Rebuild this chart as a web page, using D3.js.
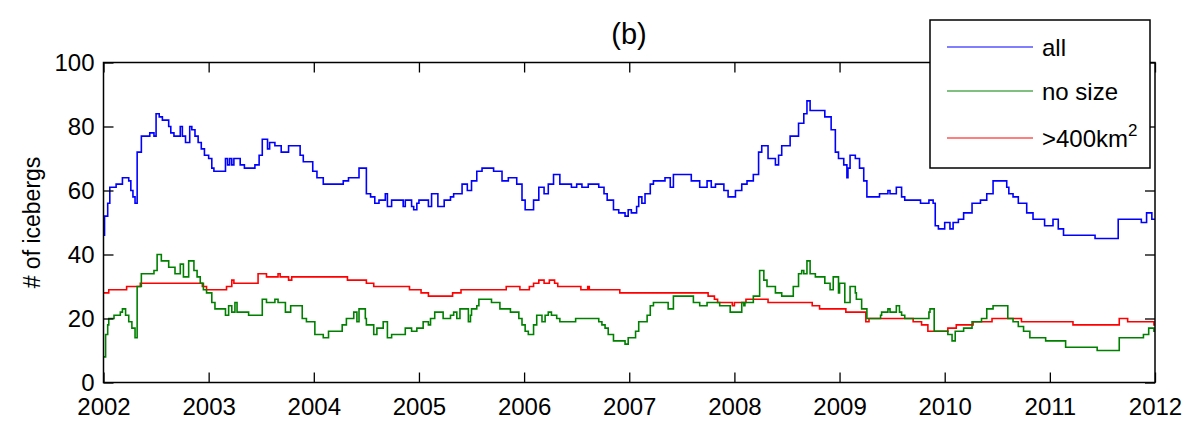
<!DOCTYPE html>
<html>
<head>
<meta charset="utf-8">
<script src="https://cdn.jsdelivr.net/npm/d3@7"></script>
<style>
  body { margin: 0; background: #fff; }
  svg text { font-family: "Liberation Sans", Arial, sans-serif; fill: #000; }
</style>
</head>
<body>
<div id="root"></div>
<script>
// Data: [decimal year, count], drawn as steps.
const allBergs = [[2002.00,46],[2002.01,52],[2002.04,56],[2002.06,61],[2002.12,62],[2002.16,62],[2002.18,64],[2002.24,63],[2002.26,60],[2002.28,58],[2002.30,56],[2002.32,72],[2002.36,77],[2002.44,78],[2002.48,77],[2002.50,84],[2002.53,83],[2002.56,82],[2002.62,80],[2002.64,78],[2002.67,77],[2002.73,80],[2002.75,77],[2002.78,75],[2002.82,80],[2002.84,79],[2002.87,77],[2002.90,75],[2002.93,73],[2002.96,71],[2003.00,70],[2003.03,67],[2003.05,66],[2003.16,70],[2003.18,68],[2003.20,70],[2003.22,68],[2003.24,70],[2003.30,68],[2003.34,67],[2003.44,68],[2003.48,71],[2003.51,76],[2003.56,73],[2003.58,75],[2003.63,74],[2003.69,72],[2003.76,74],[2003.87,71],[2003.90,69],[2003.99,66],[2004.03,64],[2004.09,62],[2004.28,63],[2004.33,64],[2004.43,67],[2004.50,59],[2004.54,58],[2004.58,56],[2004.62,57],[2004.68,59],[2004.70,55],[2004.74,57],[2004.85,55],[2004.87,57],[2004.93,55],[2004.95,54],[2004.98,56],[2005.00,57],[2005.09,55],[2005.12,59],[2005.18,55],[2005.24,57],[2005.30,58],[2005.33,59],[2005.41,62],[2005.46,60],[2005.50,63],[2005.55,66],[2005.60,67],[2005.71,66],[2005.79,63],[2005.85,64],[2005.93,62],[2005.98,57],[2006.01,54],[2006.09,57],[2006.14,61],[2006.19,59],[2006.23,62],[2006.28,65],[2006.34,62],[2006.45,61],[2006.50,62],[2006.55,61],[2006.61,62],[2006.71,61],[2006.76,59],[2006.79,57],[2006.85,54],[2006.90,53],[2006.96,52],[2006.99,54],[2007.02,53],[2007.07,55],[2007.09,58],[2007.12,56],[2007.15,59],[2007.20,62],[2007.23,63],[2007.34,64],[2007.39,61],[2007.42,65],[2007.59,63],[2007.67,61],[2007.74,63],[2007.78,61],[2007.82,62],[2007.90,60],[2007.94,58],[2008.01,60],[2008.07,62],[2008.12,63],[2008.18,65],[2008.23,72],[2008.26,74],[2008.32,70],[2008.39,68],[2008.42,71],[2008.45,74],[2008.53,77],[2008.61,81],[2008.66,84],[2008.69,88],[2008.72,85],[2008.86,83],[2008.92,79],[2008.96,72],[2008.99,70],[2009.04,68],[2009.07,64],[2009.08,67],[2009.10,71],[2009.15,70],[2009.19,67],[2009.23,63],[2009.26,58],[2009.38,59],[2009.46,60],[2009.48,59],[2009.54,61],[2009.59,58],[2009.62,57],[2009.77,56],[2009.85,57],[2009.89,56],[2009.91,49],[2009.94,48],[2010.00,50],[2010.05,48],[2010.08,50],[2010.13,51],[2010.18,53],[2010.26,56],[2010.34,57],[2010.40,59],[2010.46,63],[2010.59,61],[2010.61,59],[2010.65,58],[2010.70,56],[2010.78,53],[2010.84,51],[2010.95,49],[2011.03,51],[2011.08,48],[2011.13,46],[2011.43,45],[2011.65,51],[2011.87,50],[2011.92,53],[2011.97,51],[2012.00,51]];

const noSize = [[2002.00,8],[2002.02,15],[2002.04,18],[2002.05,20],[2002.10,21],[2002.16,22],[2002.18,23],[2002.21,21],[2002.24,19],[2002.27,17],[2002.30,14],[2002.32,30],[2002.36,34],[2002.48,35],[2002.51,40],[2002.55,38],[2002.62,36],[2002.68,34],[2002.73,37],[2002.76,33],[2002.81,38],[2002.86,35],[2002.89,33],[2002.92,31],[2002.95,29],[2002.98,28],[2003.03,25],[2003.06,23],[2003.16,21],[2003.19,24],[2003.22,22],[2003.25,25],[2003.27,22],[2003.38,21],[2003.51,26],[2003.55,25],[2003.63,26],[2003.66,25],[2003.73,22],[2003.78,24],[2003.89,20],[2003.93,19],[2004.01,15],[2004.09,14],[2004.14,16],[2004.27,18],[2004.31,20],[2004.38,22],[2004.41,19],[2004.43,23],[2004.49,20],[2004.50,18],[2004.57,15],[2004.60,17],[2004.66,19],[2004.70,14],[2004.74,15],[2004.87,17],[2004.93,16],[2004.98,17],[2005.04,19],[2005.09,18],[2005.11,20],[2005.15,22],[2005.23,20],[2005.30,21],[2005.33,22],[2005.36,20],[2005.39,23],[2005.47,19],[2005.49,21],[2005.50,23],[2005.55,24],[2005.57,26],[2005.69,25],[2005.77,23],[2005.87,22],[2005.95,20],[2005.98,18],[2006.01,16],[2006.04,15],[2006.09,18],[2006.12,21],[2006.17,19],[2006.20,21],[2006.23,22],[2006.26,21],[2006.31,20],[2006.34,19],[2006.49,20],[2006.71,19],[2006.74,18],[2006.77,17],[2006.80,15],[2006.85,13],[2006.96,12],[2006.99,14],[2007.06,16],[2007.09,19],[2007.17,21],[2007.20,24],[2007.23,25],[2007.37,23],[2007.42,27],[2007.61,25],[2007.67,24],[2007.74,25],[2007.86,24],[2007.96,22],[2008.07,25],[2008.09,24],[2008.10,25],[2008.18,27],[2008.24,35],[2008.28,32],[2008.31,30],[2008.39,28],[2008.45,27],[2008.56,30],[2008.61,34],[2008.64,35],[2008.66,34],[2008.69,38],[2008.72,34],[2008.77,33],[2008.86,31],[2008.91,29],[2008.94,33],[2008.99,28],[2009.00,31],[2009.05,25],[2009.10,30],[2009.15,28],[2009.16,26],[2009.21,23],[2009.26,20],[2009.39,21],[2009.40,22],[2009.46,23],[2009.48,22],[2009.54,24],[2009.57,22],[2009.59,21],[2009.62,20],[2009.85,22],[2009.86,23],[2009.90,16],[2010.03,15],[2010.07,13],[2010.10,16],[2010.18,17],[2010.26,19],[2010.35,20],[2010.40,23],[2010.46,24],[2010.60,20],[2010.65,19],[2010.70,17.5],[2010.75,16],[2010.81,14],[2010.96,13],[2011.15,11],[2011.45,10],[2011.66,14],[2011.89,15],[2011.94,17],[2011.99,16],[2012.00,16]];

const large = [[2002.00,28],[2002.05,29],[2002.22,30],[2002.35,31],[2002.94,30],[2002.98,29],[2003.17,30],[2003.22,32],[2003.24,31],[2003.47,34],[2003.55,33],[2003.66,34],[2003.68,33],[2003.76,32],[2003.79,33],[2004.32,32],[2004.50,31],[2004.57,30],[2004.91,29],[2005.02,28],[2005.09,27],[2005.32,28],[2005.40,29],[2005.83,30],[2005.96,29],[2006.05,30],[2006.09,31],[2006.14,32],[2006.19,31],[2006.24,32],[2006.29,31],[2006.32,30],[2006.54,29],[2006.605,30],[2006.62,29],[2006.91,28],[2007.75,27],[2007.81,26],[2007.84,25],[2007.98,24],[2008.00,25],[2008.11,26],[2008.32,25],[2008.74,24],[2008.81,23],[2009.06,22],[2009.25,19],[2009.28,20],[2009.70,19],[2009.78,18],[2009.84,16],[2010.03,17],[2010.11,18],[2010.27,19],[2010.45,20],[2010.73,19],[2011.22,18],[2011.66,20],[2011.74,19],[2011.99,18],[2012.00,18]];

const yearTicks = [2002, 2003, 2004, 2005, 2006, 2007, 2008, 2009, 2010, 2011, 2012];
const countTicks = [0, 20, 40, 60, 80, 100];

const seriesList = [
  { name: 'all', values: allBergs, color: '#0000ff' },
  { name: 'no size', values: noSize, color: '#008000' },
  { name: '>400km', values: large, color: '#ff0000', sup: '2' }
];

let width = 1192;
let height = 427;
// plot box edges (top is a window global, so use other names)
let boxL = 103.5, boxR = 1155, boxT = 62.5, boxB = 382.5;

let svg = d3.select('#root')
  .append('svg')
  .attr('width', width)
  .attr('height', height);

let xScale = d3.scaleLinear().domain([2002, 2012]).range([boxL, boxR]);
let yScale = d3.scaleLinear().domain([0, 100]).range([boxB, boxT]);

// clip so steps stay inside the box
svg.append('clipPath').attr('id', 'plotClip')
  .append('rect')
  .attr('x', boxL).attr('y', boxT)
  .attr('width', boxR - boxL).attr('height', boxB - boxT);

let line = d3.line()
  .x(d => xScale(d[0]))
  .y(d => yScale(d[1]))
  .curve(d3.curveStepAfter);

let plot = svg.append('g').attr('clip-path', 'url(#plotClip)');

// draw red and green first, blue last like the figure
[seriesList[2], seriesList[1], seriesList[0]].forEach(s => {
  plot.append('path')
    .datum(s.values)
    .attr('fill', 'none')
    .attr('stroke', s.color)
    .attr('stroke-width', 1.6)
    .attr('d', line);
});

// axes, ticks pointing inward
let styleAxis = (g) => {
  g.select('.domain').remove();
  g.selectAll('.tick line').attr('stroke', '#000').attr('stroke-width', 1.3);
  g.selectAll('.tick text').style('font-size', '24px');
};

svg.append('g')
  .attr('transform', `translate(0, ${boxB})`)
  .call(d3.axisBottom(xScale).tickValues(yearTicks).tickFormat(d3.format('d'))
    .tickSizeInner(-10).tickSizeOuter(0).tickPadding(15))
  .call(styleAxis);

svg.append('g')
  .attr('transform', `translate(0, ${boxT})`)
  .call(d3.axisTop(xScale).tickValues(yearTicks).tickFormat('')
    .tickSizeInner(-10).tickSizeOuter(0))
  .call(styleAxis);

svg.append('g')
  .attr('transform', `translate(${boxL}, 0)`)
  .call(d3.axisLeft(yScale).tickValues(countTicks)
    .tickSizeInner(-10).tickSizeOuter(0).tickPadding(9))
  .call(styleAxis);

svg.append('g')
  .attr('transform', `translate(${boxR}, 0)`)
  .call(d3.axisRight(yScale).tickValues(countTicks).tickFormat('')
    .tickSizeInner(-10).tickSizeOuter(0))
  .call(styleAxis);

svg.append('rect')
  .attr('x', boxL).attr('y', boxT)
  .attr('width', boxR - boxL).attr('height', boxB - boxT)
  .attr('fill', 'none')
  .attr('stroke', '#000')
  .attr('stroke-width', 1.5);

// title and y label
svg.append('text')
  .attr('x', 629).attr('y', 44)
  .attr('text-anchor', 'middle')
  .style('font-size', '29px')
  .text('(b)');

svg.append('text')
  .attr('transform', `translate(40, ${(boxT + boxB) / 2}) rotate(-90)`)
  .attr('text-anchor', 'middle')
  .style('font-size', '23px')
  .text('# of icebergs');

// legend box
let legend = svg.append('g');
legend.append('rect')
  .attr('x', 930).attr('y', 20)
  .attr('width', 220).attr('height', 148)
  .attr('fill', '#fff')
  .attr('stroke', '#000')
  .attr('stroke-width', 1.5);

let legendY = [47, 91, 138];
seriesList.forEach((s, i) => {
  legend.append('line')
    .attr('x1', 947).attr('x2', 1033)
    .attr('y1', legendY[i]).attr('y2', legendY[i])
    .attr('stroke', s.color)
    .attr('stroke-width', 1.2);
  let t = legend.append('text')
    .attr('x', 1042).attr('y', legendY[i] + 9)
    .style('font-size', '24px')
    .text(s.name);
  if (s.sup) {
    t.append('tspan')
      .attr('dy', -11)
      .style('font-size', '17px')
      .text(s.sup);
  }
});
</script>
</body>
</html>
